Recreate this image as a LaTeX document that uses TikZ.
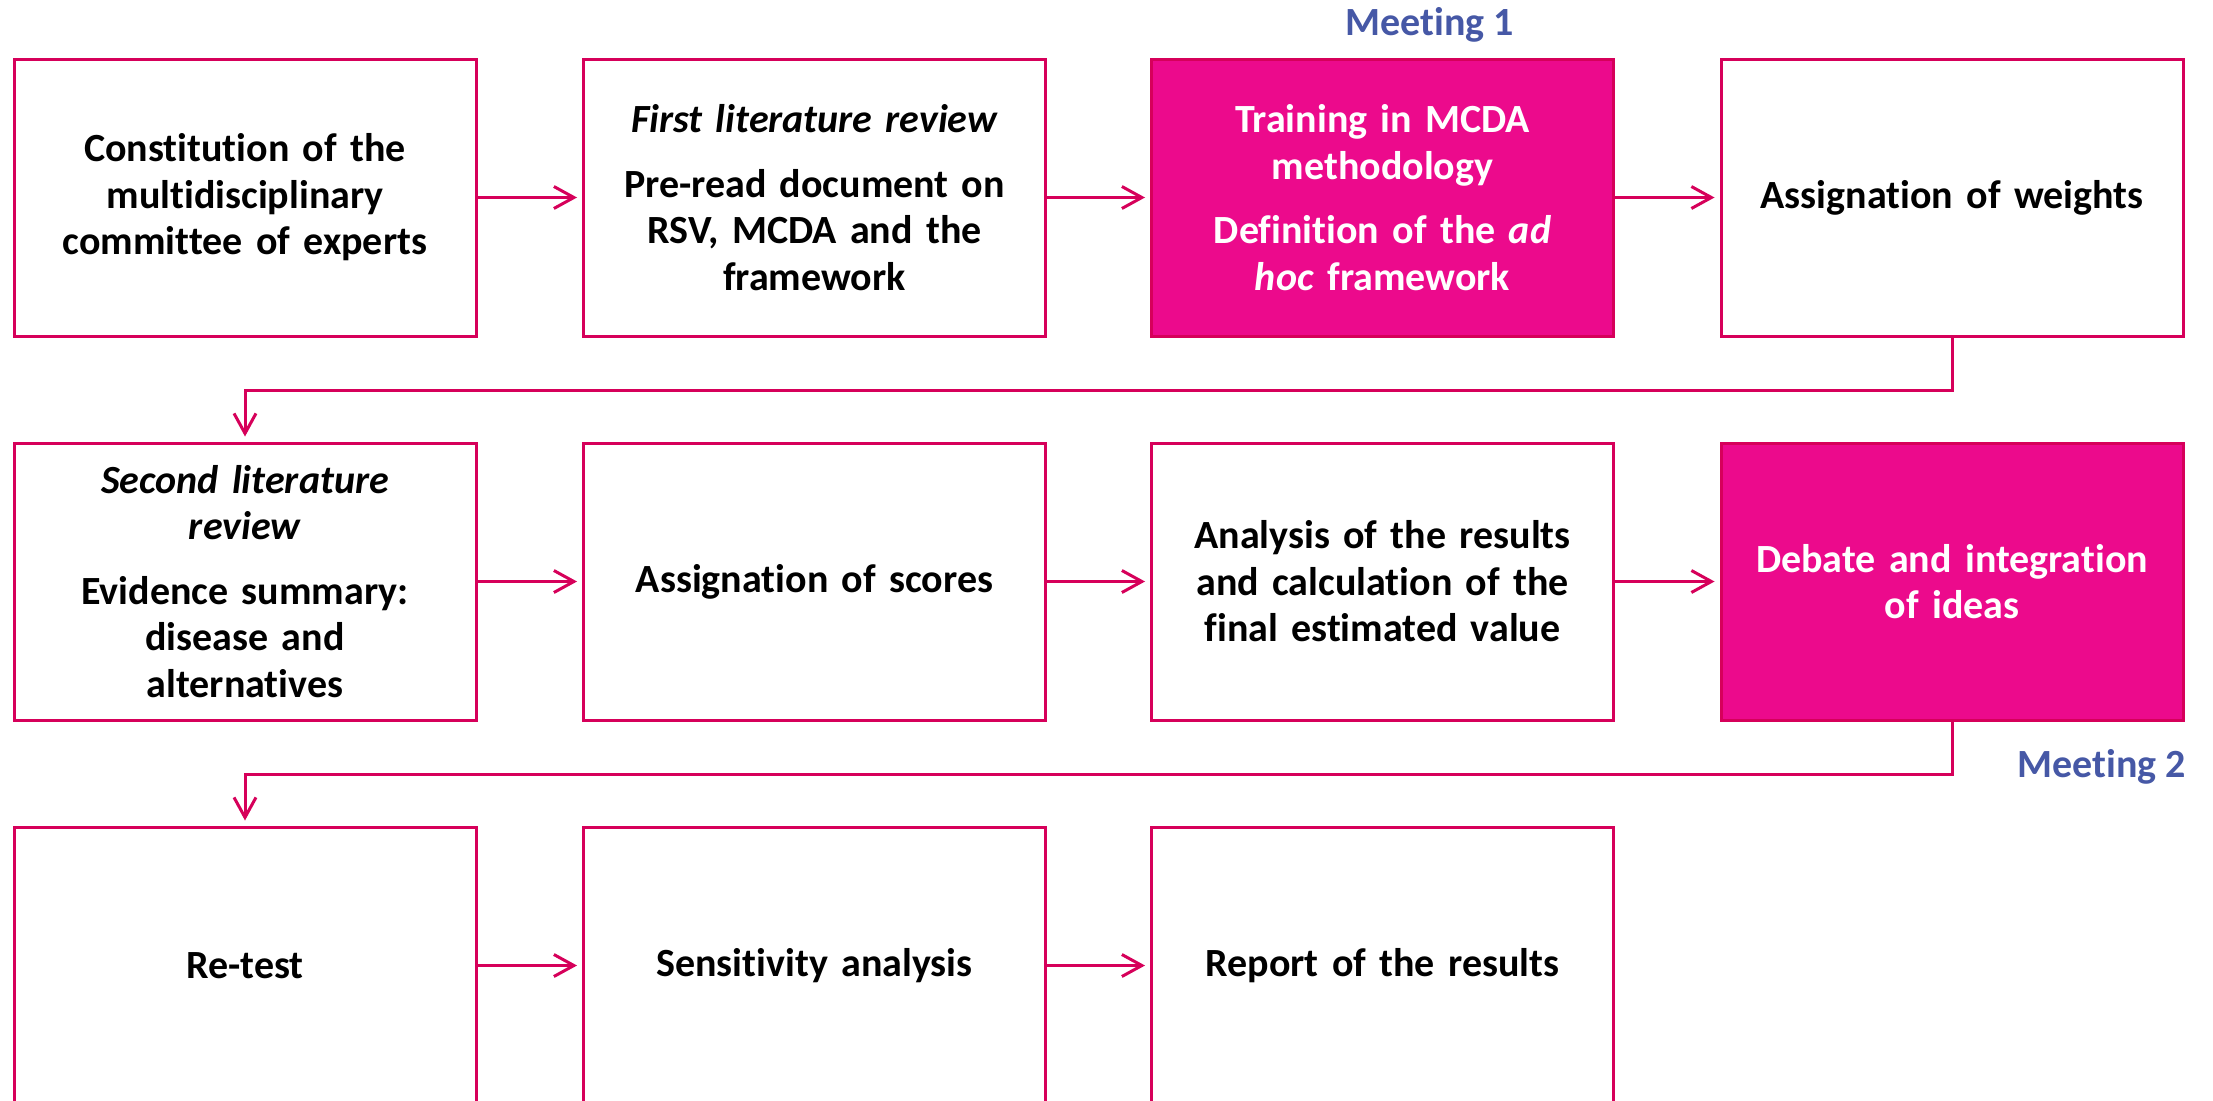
\documentclass[tikz,border=0pt]{standalone}
\usepackage{fontspec}
\setmainfont[Ligatures={NoCommon,NoContextual}]{Carlito}
\usetikzlibrary{arrows.meta}
\definecolor{edge}{RGB}{214,0,90}
\definecolor{hot}{RGB}{236,10,140}
\definecolor{meet}{RGB}{70,88,166}
\begin{document}
\begin{tikzpicture}[x=1pt,y=-1pt,
  stepbox/.style={draw=edge, line width=3pt, fill=white, minimum width=462pt, minimum height=277pt,
    inner sep=0pt, align=center, text width=450pt, font=\fontsize{40}{46.5}\selectfont\bfseries},
  hotbox/.style={stepbox, fill=hot, text=white},
  flow/.style={draw=edge, line width=3pt, -{Straight Barb[length=20pt,width=22pt]}, shorten >=5pt},
  meeting/.style={text=meet, font=\fontsize{40}{46.5}\selectfont\bfseries, inner sep=0pt}]
\useasboundingbox (0,0) rectangle (2213,1100);
\fill[white] (0,0) rectangle (2213,1100);
% row 1
\node[stepbox] (b1) at (245,197.5) {Constitution of the\\multidisciplinary\\committee of experts};
\node[stepbox] (b2) at (814.5,197.5) {\textit{First literature review}\\[18pt]Pre-read document on\\RSV, MCDA and the\\framework};
\node[hotbox] (b3) at (1382.5,197.5) {Training in MCDA\\methodology\\[18pt]Definition of the \textit{ad}\\\textit{hoc} framework};
\node[stepbox] (b4) at (1952,197.5) {Assignation of weights};
% row 2
\node[stepbox] (b5) at (245,581.5) {\textit{Second literature}\\\textit{review}\\[18pt]Evidence summary:\\disease and\\alternatives};
\node[stepbox] (b6) at (814.5,581.5) {Assignation of scores};
\node[stepbox] (b7) at (1382.5,581.5) {Analysis of the results\\and calculation of the\\final estimated value};
\node[hotbox] (b8) at (1952,581.5) {Debate and integration\\of ideas};
% row 3
\node[stepbox] (b9) at (245,965.5) {\raisebox{-4pt}{Re-test}};
\node[stepbox] (b10) at (814.5,965.5) {\raisebox{-4pt}{Sensitivity analysis}};
\node[stepbox] (b11) at (1382.5,965.5) {\raisebox{-4pt}{Report of the results}};
% labels
\node[meeting, anchor=base] (m1) at (1430,35) {Meeting 1};
\node[meeting, anchor=base] (m2) at (2102,777) {Meeting 2};
% connectors
\draw[flow] (b1.east) -- (b2.west);
\draw[flow] (b2.east) -- (b3.west);
\draw[flow] (b3.east) -- (b4.west);
\draw[flow] (b4.south) -- ++(0,53) -| (b5.north);
\draw[flow] (b5.east) -- (b6.west);
\draw[flow] (b6.east) -- (b7.west);
\draw[flow] (b7.east) -- (b8.west);
\draw[flow] (b8.south) -- ++(0,53) -| (b9.north);
\draw[flow] (b9.east) -- (b10.west);
\draw[flow] (b10.east) -- (b11.west);
\end{tikzpicture}
\end{document}
